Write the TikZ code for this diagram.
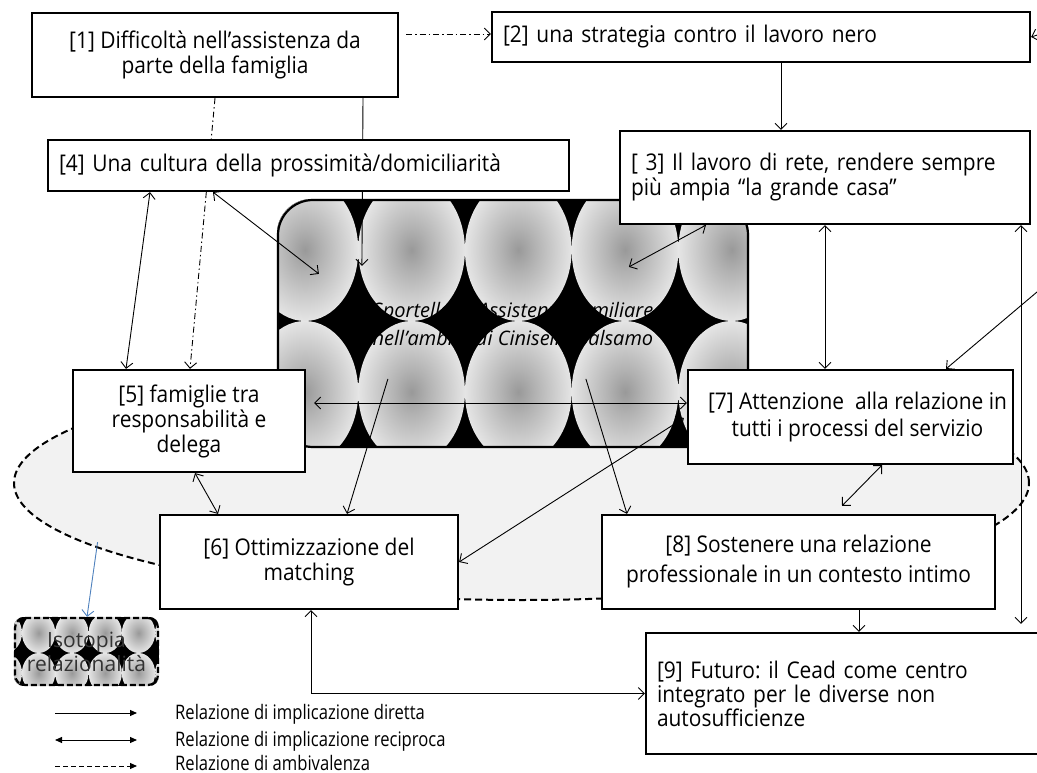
\documentclass[tikz,border=0pt]{standalone}
\usepackage{fontspec}
\setmainfont{Open Sans}
\newfontfamily\boxfont[FakeStretch=0.91]{Open Sans}
\newfontfamily\legendfont[FakeStretch=0.83]{Open Sans}
\usetikzlibrary{arrows.meta,shapes.geometric,calc}
\pgfdeclarelayer{bg}
\pgfdeclarelayer{mid}
\pgfsetlayers{bg,mid,main}
% soft grey ball used to tile the patterned areas
\pgfdeclareradialshading{tile}{\pgfpoint{0bp}{0bp}}{color(0bp)=(black!40); color(8bp)=(black!30); color(34bp)=(white); color(50bp)=(white)}
\definecolor{zonegray}{gray}{0.95}
\definecolor{linkblue}{RGB}{79,129,189}

\begin{document}
\frenchspacing
\begin{tikzpicture}[x=1pt,y=-1pt,
  box/.style={draw, line width=2.2pt, fill=white, inner sep=0pt, font=\boxfont\fontsize{23}{25}\selectfont},
  lbox/.style={box, align=left, inner xsep=11pt},
  cbox/.style={box, align=center},
  rel/.style={line width=0.9pt},
  >={Straight Barb[length=6pt,width=12pt]},
  ambi/.style={rel, dash pattern=on 6pt off 3pt on 1.5pt off 3pt},
  leg/.style={line width=1pt},
  legtext/.style={anchor=base west, inner sep=0pt, font=\legendfont\fontsize{20}{24}\selectfont}
]
\useasboundingbox (0,0) rectangle (1037,773);

% central service and the isotopy marker
\node[draw, line width=2.2pt, rounded corners=35pt, minimum width=470pt, minimum height=247pt,
      inner sep=0pt, align=center, font=\itshape\fontsize{20}{28}\selectfont] (sp) at (513,323.5)
      {Sportello di Assistenza familiare\\nell’ambito di Cinisello Balsamo};
\node[draw, line width=2.2pt, dash pattern=on 6pt off 3pt, rounded corners=10pt, minimum width=143pt,
      minimum height=67pt, inner sep=0pt, align=center, text=black!80, font=\fontsize{21}{24}\selectfont]
      (iso) at (86.5,651.5) {Isotopia\\relazionalità};

% boxes
\node[cbox, minimum width=366pt, minimum height=84pt] (n1) at (215,55) {[1] Difficoltà nell’assistenza da\\parte della famiglia};
\node[lbox, text width=516pt, minimum height=50pt] (n2) at (761,37) {[2] una strategia contro il lavoro nero};
\node[lbox, text width=388pt, minimum height=93pt] (n3) at (825,177.5) {[ 3] Il lavoro di rete, rendere sempre\\più ampia “la grande casa”};
\node[lbox, text width=499pt, minimum height=51pt] (n4) at (308.5,165.5) {[4] Una cultura della prossimità/domiciliarità};
\node[cbox, minimum width=232pt, minimum height=102pt] (n5) at (189,421) {[5] famiglie tra\\responsabilità e\\delega};
\node[cbox, minimum width=298pt, minimum height=94pt] (n6) at (309,562) {[6] Ottimizzazione del\\matching};
\node[cbox, minimum width=325pt, minimum height=94pt, font=\boxfont\fontsize{23}{27}\selectfont] (n7) at (850.5,417)
      {\hspace*{14pt}[7] Attenzione\ \ alla relazione in\\\hspace*{14pt}tutti i processi del servizio};
\node[cbox, minimum width=393pt, minimum height=94pt, font=\boxfont\fontsize{23}{30}\selectfont] (n8) at (798.5,562)
      {[8] Sostenere una relazione\\professionale in un contesto intimo};
\node[lbox, text width=392pt, minimum height=121pt, font=\boxfont\fontsize{23}{24}\selectfont] (n9) at (853,693.5)
      {[9] Futuro: il Cead come centro\\integrato per le diverse non\\autosufficienze};

\begin{pgfonlayer}{bg}
  \node[ellipse, draw, dash pattern=on 7pt off 4pt, line width=2pt, fill=zonegray,
        minimum width=1015pt, minimum height=234pt, inner sep=0pt] (zone) at (521.5,483) {};
  \begin{scope}
    \clip[rounded corners=35pt] (sp.south west) rectangle (sp.north east);
    \fill (sp.south west) rectangle (sp.north east);
    \foreach \cx in {304.9,411.6,518.3,625,731.7}
      \foreach \cy in {250,392}
        \shade[shading=tile] (\cx,\cy) ellipse [x radius=53.35, y radius=71];
  \end{scope}
  \begin{scope}
    \clip[rounded corners=10pt] (iso.south west) rectangle (iso.north east);
    \fill (iso.south west) rectangle (iso.north east);
    \foreach \cx in {5.3,38.6,71.9,105.2,138.5,171.8}
      \foreach \cy in {633,673}
        \shade[shading=tile] (\cx,\cy) ellipse [x radius=16.65, y radius=20];
  \end{scope}
\end{pgfonlayer}

% connectors
\begin{pgfonlayer}{mid}
  \coordinate (offA) at (1050,31);
  \coordinate (offB) at (1050,281);
  \draw[ambi,->] ([xshift=7pt,yshift=3pt]n1.east |- n2.west) -- ([yshift=3pt]n2.west);
  \draw[rel,->] (offA) -- (n2.east);
  \draw[rel,->] (781,0 |- n2.south) -- (781,0 |- n3.north);
  \draw[rel,->] (363,0 |- n1.south) -- ([xshift=85pt,yshift=-67pt]sp.north west);
  \draw[ambi,->] (215,0 |- n1.south) -- (190,0 |- n5.north);
  \draw[rel,<->] (150,0 |- n4.south) -- (126,0 |- n5.north);
  \draw[rel,<->] (213,0 |- n4.south) -- ([xshift=42pt,yshift=-75pt]sp.north west);
  \draw[rel,<->] (706,0 |- n3.south) -- ([xshift=352pt,yshift=-68pt]sp.north west);
  \draw[rel,<->] (825,0 |- n3.south) -- (825,0 |- n7.north);
  \draw[rel,<->] (1021,0 |- n3.south) -- ($(1021,0 |- n9.north)+(0,-8)$);
  \draw[rel,->] (offB) -- (946,0 |- n7.north);
  \draw[rel,<->] ($(n5.east)+(8,-18)$) -- ($(n7.west)+(0,-14)$);
  \draw[rel,<->] (195,0 |- n5.south) -- (218,0 |- n6.north);
  \draw[rel,->] ([xshift=111pt,yshift=-180pt]sp.north west) -- (347,0 |- n6.north);
  \draw[rel,->] ([xshift=309pt,yshift=-180pt]sp.north west) -- (627,0 |- n8.north);
  \draw[rel,<->] ($(n7.west)+(-3,1)$) -- (n6.east);
  \draw[rel,<->] (882,0 |- n7.south) -- ($(842,0 |- n8.north)+(0,-8)$);
  \draw[rel,->] (859,0 |- n8.south) -- (859,0 |- n9.north);
  \draw[rel,<->] (311,0 |- n6.south) |- (n9.west);
  \draw[rel,->,linkblue] ($(zone.188)+(11,-2)$) -- (87,0 |- iso.north);
\end{pgfonlayer}

% legend
\node[legtext] (lg1) at (175,719) {Relazione di implicazione diretta};
\node[legtext] (lg2) at (175,746) {Relazione di implicazione reciproca};
\node[legtext] (lg3) at (175,770) {Relazione di ambivalenza};
\draw[leg,-{Triangle[length=7pt,width=6pt]}] ([xshift=-120pt,yshift=6pt]lg1.base west) -- ([xshift=-38pt,yshift=6pt]lg1.base west);
\draw[leg,{Triangle[length=7pt,width=6pt]}-{Triangle[length=7pt,width=6pt]}] ([xshift=-120pt,yshift=6pt]lg2.base west) -- ([xshift=-38pt,yshift=6pt]lg2.base west);
\draw[leg,dash pattern=on 5pt off 3pt,-{Triangle[length=7pt,width=6pt]}] ([xshift=-120pt,yshift=4pt]lg3.base west) -- ([xshift=-38pt,yshift=4pt]lg3.base west);
\end{tikzpicture}
\end{document}
